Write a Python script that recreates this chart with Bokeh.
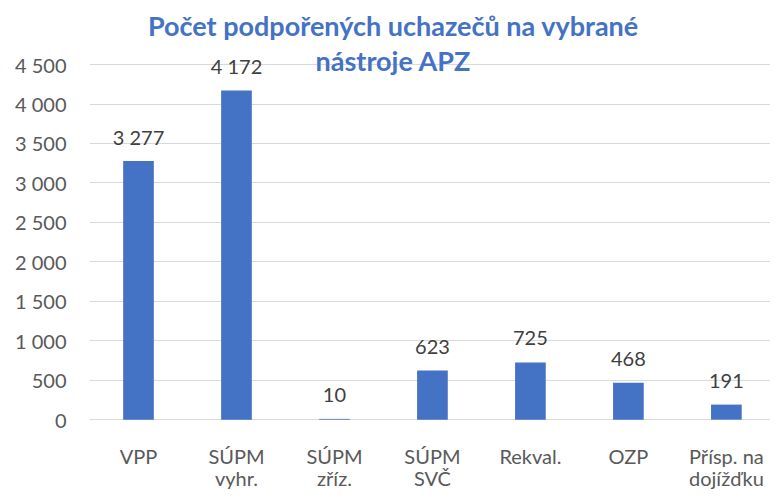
from bokeh.plotting import figure
from bokeh.models import Range1d, FixedTicker, Label, ColumnDataSource
from bokeh.core.properties import value
from bokeh.embed import file_html
from bokeh.resources import INLINE

# ---- data ----
categories = ["VPP", "SÚPM vyhr.", "SÚPM zříz.", "SÚPM SVČ", "Rekval.", "OZP", "Přísp. na dojížďku"]
label_line1 = ["VPP", "SÚPM", "SÚPM", "SÚPM", "Rekval.", "OZP", "Přísp. na"]
label_line2 = ["", "vyhr.", "zříz.", "SVČ", "", "", "dojížďku"]
counts = [3277, 4172, 10, 623, 725, 468, 191]
y_ticks = [0, 500, 1000, 1500, 2000, 2500, 3000, 3500, 4000, 4500]
title_lines = ["Počet podpořených uchazečů na vybrané", "nástroje APZ"]

BLUE = "#4472C4"
GREY_TXT = "#595959"
FONT = "Lato"

W, H = 770, 491
SX, SY = W / 778.0, H / 499.0          # layout scaled from the 778x499 design
LEFT = round(90 * SX)
frame_w = W - LEFT
cat_px = 99.0 * SX
px_per_unit = 40.1 * SY / 500.0
zero_px_from_bottom = H - 426 * SY

y_start = -zero_px_from_bottom / px_per_unit
y_end = y_start + H / px_per_unit

xs = [i + 0.5 for i in range(len(categories))]
src = ColumnDataSource(dict(x=xs, top=counts, cat=categories,
                            lab=[f"{v:,}".replace(",", " ") for v in counts],
                            l1=label_line1, l2=label_line2,
                            zero=[0] * len(counts)))

p = figure(width=W, height=H, output_backend="svg", toolbar_location=None,
           x_range=Range1d(0, frame_w / cat_px), y_range=Range1d(y_start, y_end),
           x_axis_location=None, min_border_left=LEFT, min_border_right=0,
           min_border_top=0, min_border_bottom=0)
p.outline_line_color = None
p.background_fill_color = "white"
p.border_fill_color = "white"

p.xgrid.visible = False
p.ygrid.grid_line_color = "#D9D9D9"
p.ygrid.grid_line_width = 1

yax = p.yaxis[0]
yax.ticker = FixedTicker(ticks=y_ticks)
yax.major_label_overrides = {t: f"{t:,}".replace(",", " ") for t in y_ticks}
yax.axis_line_color = None
yax.major_tick_line_color = None
yax.minor_tick_line_color = None
yax.major_tick_out = 0
yax.major_tick_in = 0
yax.major_label_standoff = 23
yax.major_label_text_font = FONT
yax.major_label_text_font_size = "20px"
yax.major_label_text_color = GREY_TXT

p.vbar(x="x", top="top", bottom=0, width=0.313, source=src,
       fill_color=BLUE, line_color=None)

p.text(x="x", y="top", text="lab", source=src, y_offset=-24,
       text_align="center", text_baseline="alphabetic",
       text_font=value(FONT), text_font_size="20px", text_color="#404040")

p.text(x="x", y="zero", text="l1", source=src, y_offset=36,
       text_align="center", text_baseline="alphabetic",
       text_font=value(FONT), text_font_size="20px", text_color=GREY_TXT)
p.text(x="x", y="zero", text="l2", source=src, y_offset=58,
       text_align="center", text_baseline="alphabetic",
       text_font=value(FONT), text_font_size="20px", text_color=GREY_TXT)

# title (centered at design x ~397)
title_x = (397 * SX - LEFT) / cat_px
for line, base_px in zip(title_lines, [25.0, 60.0]):
    y_val = y_end - base_px / px_per_unit
    p.add_layout(Label(x=title_x, y=y_val, text=line, text_align="center",
                       text_baseline="alphabetic", text_font=FONT,
                       text_font_style="bold", text_font_size="27px",
                       text_color=BLUE))

open("out.html", "w").write(file_html(p, INLINE))
